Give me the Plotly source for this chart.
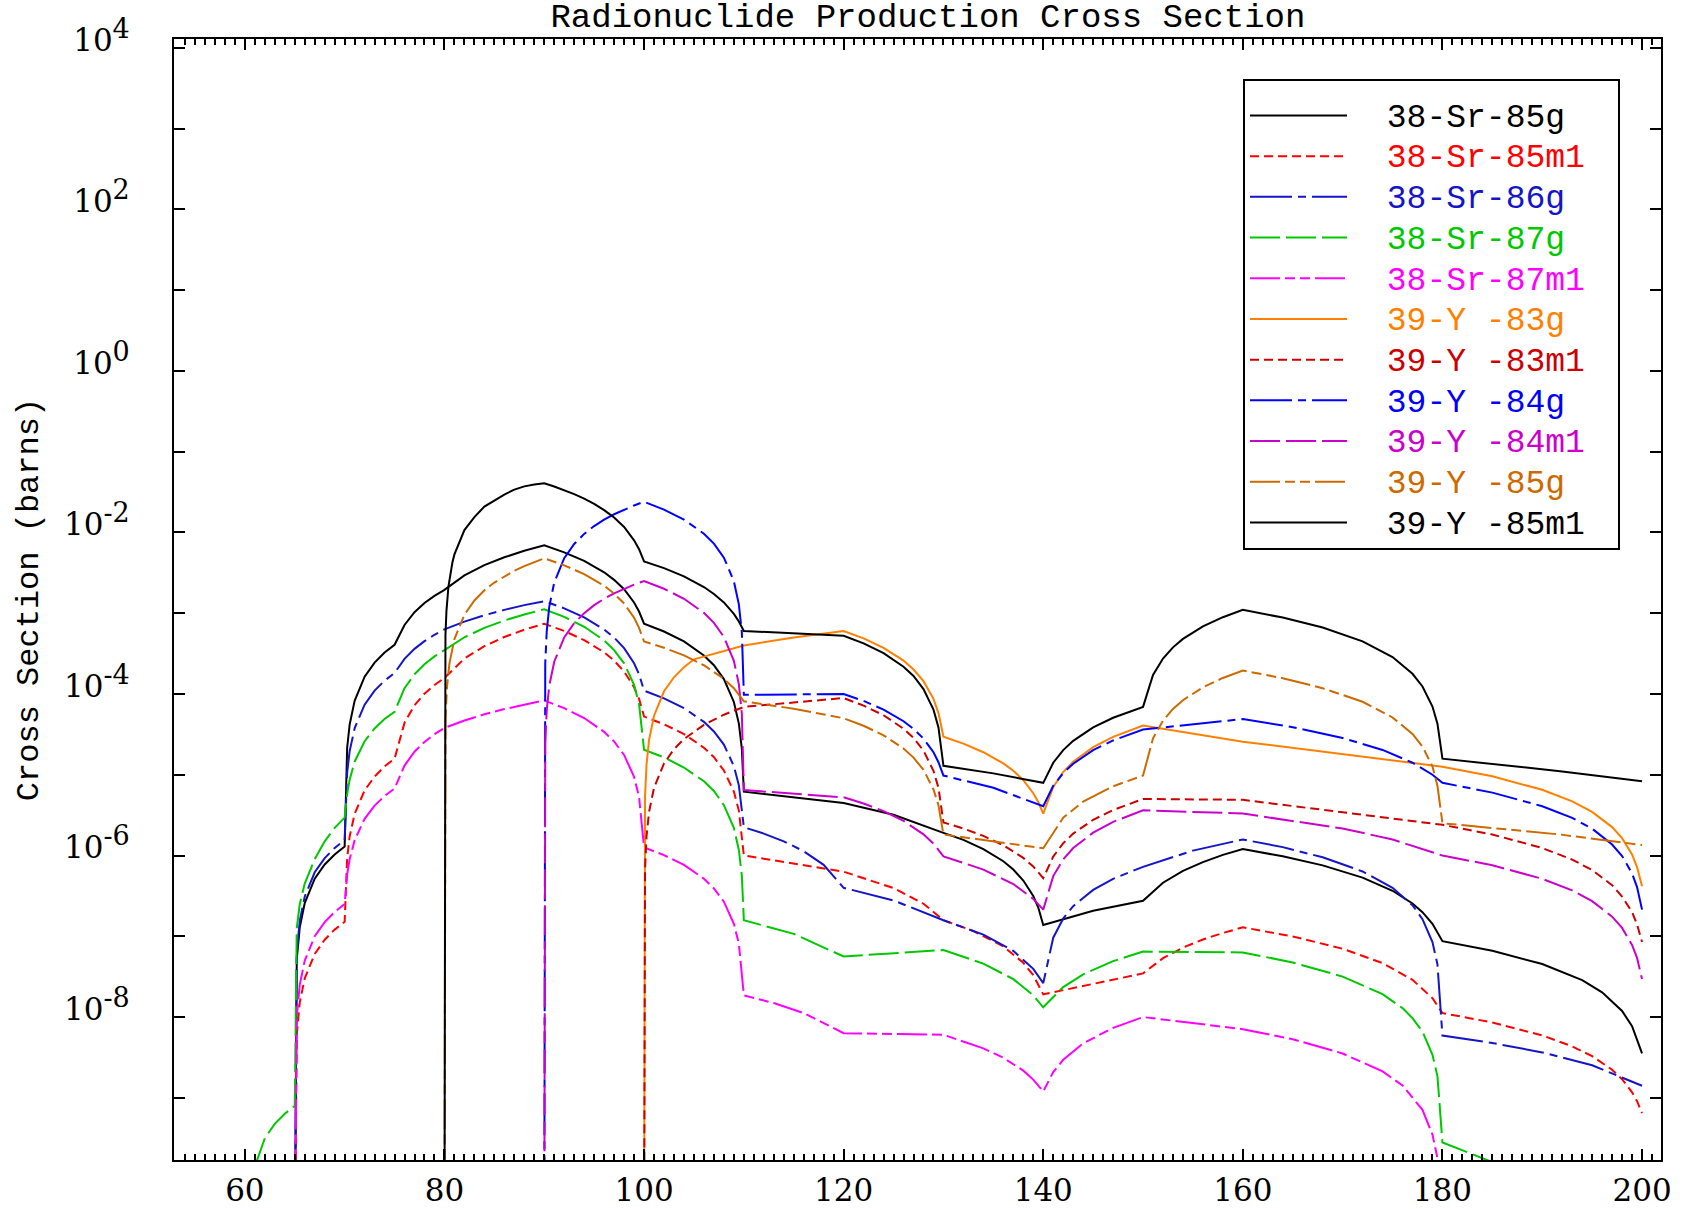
import plotly.graph_objects as go

# ---------------- data ----------------
# (energy MeV, cross section barns) pairs for each product
SR85G = [(65, 1e-11), (65.2, 5.2e-8), (65.5, 1.29e-7), (66, 2.58e-7), (67, 5.16e-7), (68, 7.74e-7), (69, 1.03e-6),
         (70, 1.29e-6), (70.25, 2.16e-5), (70.5, 4.18e-5), (71, 8.24e-5), (72, 1.64e-4), (73, 2.45e-4), (74, 3.26e-4),
         (75, 4.07e-4), (76, 7.16e-4), (77, 1.03e-3), (78, 1.34e-3), (79, 1.64e-3), (80, 1.95e-3), (82, 2.94e-3),
         (84, 3.94e-3), (86, 4.93e-3), (88, 5.93e-3), (90, 6.92e-3), (92, 5.68e-3), (94, 4.45e-3), (96, 3.21e-3),
         (97, 2.59e-3), (98, 1.98e-3), (99, 1.36e-3), (99.5, 1.05e-3), (100, 7.41e-4), (102, 5.94e-4), (104, 4.47e-4),
         (106, 3.0e-4), (107, 2.27e-4), (108, 1.53e-4), (109, 7.97e-5), (109.5, 4.3e-5), (109.8, 2.1e-5), (110, 6.17e-6),
         (120, 4.47e-6), (125, 3.19e-6), (130, 1.91e-6), (132, 1.56e-6), (134, 1.2e-6), (136, 8.5e-7), (137, 6.7e-7),
         (138, 4.9e-7), (139, 3.15e-7), (139.5, 2.27e-7), (140, 1.38e-7), (145, 2.07e-7), (150, 2.75e-7), (152, 4.6e-7),
         (154, 6.45e-7), (156, 8.3e-7), (158, 1.02e-6), (160, 1.2e-6), (164, 9.78e-7), (168, 7.55e-7), (172, 5.33e-7),
         (175, 3.66e-7), (177, 2.55e-7), (178, 1.99e-7), (179, 1.43e-7), (180, 8.71e-8), (185, 6.62e-8), (190, 4.53e-8),
         (194, 2.86e-8), (196, 2.02e-8), (198, 1.19e-8), (199, 7.7e-9), (200, 3.55e-9)]

SR85M1 = [(65, 1e-11), (65.2, 6.0e-9), (65.5, 1.51e-8), (66, 3.02e-8), (67, 6.04e-8), (68, 9.06e-8), (69, 1.21e-7),
          (70, 1.51e-7), (70.25, 9.3e-7), (70.5, 1.72e-6), (71, 3.28e-6), (72, 6.41e-6), (73, 9.5e-6), (74, 1.27e-5),
          (75, 1.58e-5), (76, 4.42e-5), (77, 7.26e-5), (78, 1.01e-4), (79, 1.29e-4), (80, 1.58e-4), (82, 2.75e-4),
          (84, 3.91e-4), (86, 5.08e-4), (88, 6.25e-4), (90, 7.41e-4), (92, 6.03e-4), (94, 4.65e-4), (96, 3.28e-4),
          (97, 2.59e-4), (98, 1.9e-4), (99, 1.21e-4), (99.5, 8.7e-5), (100, 5.25e-5), (102, 4.22e-5), (104, 3.19e-5),
          (106, 2.16e-5), (107, 1.65e-5), (108, 1.13e-5), (109, 6.2e-6), (109.5, 3.6e-6), (110, 1.0e-6), (120, 6.31e-7),
          (125, 3.95e-7), (128, 2.53e-7), (130, 1.58e-7), (133, 1.16e-7), (136, 7.5e-8), (138, 4.7e-8), (139, 3.3e-8),
          (140, 1.91e-8), (150, 3.47e-8), (152, 5.36e-8), (154, 7.24e-8), (156, 9.13e-8), (158, 1.1e-7), (160, 1.29e-7),
          (165, 9.96e-8), (170, 7.01e-8), (174, 4.66e-8), (177, 2.89e-8), (179, 1.71e-8), (180, 1.12e-8), (185, 8.56e-9),
          (190, 5.92e-9), (193, 4.34e-9), (195, 3.28e-9), (197, 2.23e-9), (198, 1.7e-9), (199, 1.17e-9), (199.5, 9.1e-10),
          (200, 6.46e-10)]

SR86G = [(65, 1e-11), (65.2, 6.2e-8), (65.5, 1.55e-7), (66, 3.1e-7), (67, 6.2e-7), (68, 9.3e-7), (69, 1.24e-6),
         (70, 1.55e-6), (70.25, 1.06e-5), (70.5, 1.96e-5), (71, 3.76e-5), (72, 7.38e-5), (73, 1.1e-4), (74, 1.46e-4),
         (75, 1.82e-4), (76, 2.72e-4), (77, 3.62e-4), (78, 4.51e-4), (79, 5.41e-4), (80, 6.31e-4), (82, 7.87e-4),
         (84, 9.43e-4), (86, 1.1e-3), (88, 1.26e-3), (90, 1.41e-3), (92, 1.15e-3), (94, 8.9e-4), (96, 6.3e-4),
         (97, 5.0e-4), (98, 3.7e-4), (99, 2.4e-4), (99.5, 1.75e-4), (100, 1.1e-4), (102, 8.84e-5), (104, 6.68e-5),
         (106, 4.52e-5), (107, 3.44e-5), (108, 2.36e-5), (109, 1.28e-5), (109.5, 7.4e-6), (110, 2.24e-6), (112, 1.87e-6),
         (114, 1.5e-6), (116, 1.13e-6), (118, 7.66e-7), (120, 3.98e-7), (125, 2.78e-7), (130, 1.58e-7), (134, 1.05e-7),
         (137, 6.6e-8), (139, 3.95e-8), (140, 2.63e-8), (141, 9.61e-8), (142, 1.66e-7), (143, 2.36e-7), (145, 3.75e-7),
         (147, 5.15e-7), (150, 7.24e-7), (155, 1.15e-6), (160, 1.58e-6), (164, 1.27e-6), (168, 9.5e-7), (172, 6.35e-7),
         (175, 3.99e-7), (177, 2.42e-7), (178, 1.63e-7), (179, 8.5e-8), (179.5, 4.5e-8), (180, 5.89e-9), (185, 4.77e-9),
         (190, 3.65e-9), (195, 2.53e-9), (200, 1.41e-9)]

SR87G = [(61, 1.41e-10), (62, 3.16e-10), (63, 4.76e-10), (64, 6.35e-10), (65, 7.94e-10), (65.2, 1.26e-7), (65.5, 2.5e-7),
         (66, 4.5e-7), (67, 9.0e-7), (68, 1.5e-6), (69, 2.2e-6), (70, 2.95e-6), (70.25, 5.8e-6), (70.5, 8.7e-6),
         (71, 1.45e-5), (72, 2.6e-5), (73, 3.75e-5), (74, 4.9e-5), (75, 6.03e-5), (76, 1.18e-4), (77, 1.76e-4),
         (78, 2.34e-4), (79, 2.92e-4), (80, 3.5e-4), (82, 5.04e-4), (84, 6.58e-4), (86, 8.12e-4), (88, 9.66e-4),
         (90, 1.12e-3), (92, 9.0e-4), (94, 6.8e-4), (96, 4.6e-4), (97, 3.5e-4), (98, 2.4e-4), (99, 1.3e-4), (99.5, 7.5e-5),
         (100, 2.04e-5), (102, 1.64e-5), (104, 1.23e-5), (106, 8.3e-6), (107, 6.3e-6), (108, 4.2e-6), (109, 2.2e-6),
         (109.5, 1.17e-6), (109.8, 5.6e-7), (110, 1.58e-7), (115, 1.07e-7), (120, 5.62e-8), (130, 6.76e-8), (134, 4.58e-8),
         (137, 2.95e-8), (139, 1.86e-8), (140, 1.32e-8), (142, 2.35e-8), (144, 3.38e-8), (147, 4.92e-8), (150, 6.46e-8),
         (160, 6.31e-8), (165, 4.74e-8), (170, 3.17e-8), (174, 1.92e-8), (176, 1.29e-8), (177, 9.7e-9), (178, 6.6e-9),
         (179, 3.4e-9), (179.5, 1.86e-9), (180, 2.8e-10), (185, 1.6e-10), (190, 1.0e-10)]

SR87M1 = [(65, 1e-11), (65.2, 1.0e-8), (65.5, 2.5e-8), (66, 5.0e-8), (67, 1.0e-7), (68, 1.5e-7), (69, 2.0e-7),
          (70, 2.51e-7), (70.25, 5.8e-7), (70.5, 9.0e-7), (71, 1.55e-6), (72, 2.85e-6), (73, 4.15e-6), (74, 5.46e-6),
          (75, 6.76e-6), (76, 1.3e-5), (77, 1.93e-5), (78, 2.55e-5), (79, 3.18e-5), (80, 3.8e-5), (82, 4.7e-5),
          (84, 5.61e-5), (86, 6.51e-5), (88, 7.42e-5), (90, 8.32e-5), (92, 6.68e-5), (94, 5.04e-5), (96, 3.4e-5),
          (97, 2.58e-5), (98, 1.76e-5), (99, 9.4e-6), (99.5, 5.3e-6), (100, 1.26e-6), (102, 1.01e-6), (104, 7.64e-7),
          (106, 5.16e-7), (107, 3.92e-7), (108, 2.68e-7), (109, 1.43e-7), (109.5, 8.1e-8), (110, 1.86e-8), (113, 1.49e-8),
          (116, 1.12e-8), (120, 6.31e-9), (130, 6.03e-9), (134, 4.1e-9), (136, 3.13e-9), (138, 2.17e-9), (139, 1.68e-9),
          (140, 1.2e-9), (141, 2.08e-9), (142, 2.96e-9), (144, 4.72e-9), (147, 7.36e-9), (150, 1.0e-8), (160, 7.08e-9),
          (165, 5.31e-9), (170, 3.54e-9), (174, 2.12e-9), (176, 1.42e-9), (178, 7.1e-10), (179, 3.5e-10), (179.5, 1.8e-10),
          (180, 1e-11)]

Y83G = [(100, 1e-11), (100.1, 5.4e-6), (100.25, 1.35e-5), (100.5, 2.69e-5), (101, 5.38e-5), (102, 1.08e-4), (103, 1.61e-4),
        (104, 2.15e-4), (105, 2.69e-4), (110, 3.98e-4), (115, 5.01e-4), (120, 6.03e-4), (122, 4.88e-4), (124, 3.73e-4),
        (126, 2.59e-4), (127, 2.01e-4), (128, 1.44e-4), (129, 8.7e-5), (129.5, 5.8e-5), (130, 2.95e-5), (132, 2.43e-5),
        (134, 1.9e-5), (136, 1.38e-5), (137, 1.12e-5), (138, 8.55e-6), (139, 5.9e-6), (139.5, 4.6e-6), (140, 3.31e-6),
        (141, 7.05e-6), (142, 1.08e-5), (143, 1.45e-5), (145, 2.2e-5), (147, 2.95e-5), (150, 4.07e-5), (160, 2.57e-5),
        (180, 1.26e-5), (185, 9.56e-6), (190, 6.51e-6), (193, 4.69e-6), (195, 3.47e-6), (197, 2.25e-6), (198, 1.64e-6),
        (199, 1.03e-6), (199.5, 7.2e-7), (200, 4.17e-7)]

Y83M1 = [(100, 1e-11), (100.1, 6.9e-7), (100.25, 1.73e-6), (100.5, 3.46e-6), (101, 6.92e-6), (102, 1.38e-5),
         (103, 2.08e-5), (104, 2.77e-5), (106, 4.15e-5), (108, 5.54e-5), (110, 6.92e-5), (120, 8.91e-5), (122, 7.18e-5),
         (124, 5.45e-5), (126, 3.72e-5), (127, 2.86e-5), (128, 1.99e-5), (129, 1.12e-5), (129.5, 6.9e-6), (130, 2.57e-6),
         (132, 2.16e-6), (134, 1.75e-6), (136, 1.34e-6), (138, 9.35e-7), (139, 7.3e-7), (140, 5.25e-7), (141, 9.7e-7),
         (142, 1.42e-6), (143, 1.87e-6), (145, 2.77e-6), (147, 3.66e-6), (150, 5.01e-6), (160, 4.9e-6), (180, 2.4e-6),
         (185, 1.82e-6), (190, 1.24e-6), (193, 8.9e-7), (195, 6.6e-7), (197, 4.3e-7), (198, 3.1e-7), (199, 2.0e-7),
         (199.5, 1.4e-7), (200, 8.51e-8)]

Y84G = [(90, 1e-11), (90.1, 2.4e-4), (90.25, 6.0e-4), (90.5, 1.2e-3), (91, 2.4e-3), (92, 4.8e-3), (93, 7.2e-3),
        (94, 9.6e-3), (95, 1.2e-2), (96, 1.44e-2), (97, 1.68e-2), (98, 1.92e-2), (99, 2.16e-2), (100, 2.4e-2),
        (102, 1.92e-2), (104, 1.44e-2), (106, 9.66e-3), (107, 7.27e-3), (108, 4.88e-3), (109, 2.49e-3), (109.5, 1.29e-3),
        (109.8, 5.8e-4), (110, 9.77e-5), (120, 1.0e-4), (122, 8.2e-5), (124, 6.4e-5), (126, 4.6e-5), (127, 3.7e-5),
        (128, 2.8e-5), (129, 1.9e-5), (129.5, 1.43e-5), (130, 9.77e-6), (135, 6.9e-6), (140, 4.07e-6), (141, 7.3e-6),
        (142, 1.05e-5), (143, 1.37e-5), (145, 2.02e-5), (147, 2.66e-5), (150, 3.63e-5), (160, 4.9e-5), (165, 3.88e-5),
        (170, 2.85e-5), (174, 2.03e-5), (177, 1.41e-5), (179, 1.0e-5), (180, 7.94e-6), (185, 6.01e-6), (190, 4.08e-6),
        (193, 2.92e-6), (195, 2.15e-6), (197, 1.37e-6), (198, 9.86e-7), (199, 6.0e-7), (199.5, 4.07e-7), (200, 2.14e-7)]

Y84M1 = [(90, 1e-11), (90.1, 2.5e-5), (90.25, 6.3e-5), (90.5, 1.26e-4), (91, 2.51e-4), (92, 5.02e-4), (93, 7.53e-4),
         (94, 1.0e-3), (95, 1.26e-3), (96, 1.51e-3), (97, 1.76e-3), (98, 2.01e-3), (99, 2.26e-3), (100, 2.51e-3),
         (102, 2.01e-3), (104, 1.51e-3), (106, 1.01e-3), (107, 7.6e-4), (108, 5.1e-4), (109, 2.58e-4), (109.5, 1.32e-4),
         (109.8, 5.7e-5), (110, 6.46e-6), (120, 5.25e-6), (122, 4.4e-6), (124, 3.54e-6), (126, 2.69e-6), (128, 1.83e-6),
         (129, 1.4e-6), (130, 9.77e-7), (134, 6.7e-7), (137, 4.44e-7), (139, 2.9e-7), (140, 2.14e-7), (141, 5.56e-7),
         (142, 8.98e-7), (143, 1.24e-6), (145, 1.92e-6), (147, 2.61e-6), (150, 3.63e-6), (160, 3.31e-6), (170, 2.16e-6),
         (175, 1.58e-6), (180, 1.0e-6), (185, 7.58e-7), (190, 5.15e-7), (193, 3.7e-7), (195, 2.72e-7), (197, 1.75e-7),
         (198, 1.27e-7), (199, 7.8e-8), (199.5, 5.4e-8), (200, 2.95e-8)]

Y85G = [(80, 1e-11), (80.1, 4.8e-5), (80.25, 1.2e-4), (80.5, 2.4e-4), (81, 4.79e-4), (82, 9.58e-4), (83, 1.44e-3),
        (84, 1.92e-3), (85, 2.4e-3), (86, 2.87e-3), (87, 3.35e-3), (88, 3.83e-3), (89, 4.31e-3), (90, 4.79e-3),
        (92, 3.92e-3), (94, 3.05e-3), (96, 2.19e-3), (97, 1.75e-3), (98, 1.32e-3), (99, 8.8e-4), (99.5, 6.6e-4),
        (100, 4.47e-4), (102, 3.74e-4), (104, 3.01e-4), (106, 2.27e-4), (108, 1.54e-4), (109, 1.18e-4), (110, 8.13e-5),
        (115, 6.57e-5), (120, 5.01e-5), (122, 4.04e-5), (124, 3.08e-5), (126, 2.11e-5), (127, 1.63e-5), (128, 1.15e-5),
        (129, 6.6e-6), (129.5, 4.2e-6), (130, 1.82e-6), (140, 1.23e-6), (142, 2.94e-6), (144, 4.65e-6), (147, 7.2e-6),
        (150, 9.77e-6), (151, 2.83e-5), (152, 4.68e-5), (153, 6.53e-5), (154, 8.38e-5), (156, 1.21e-4), (158, 1.58e-4),
        (160, 1.95e-4), (164, 1.57e-4), (168, 1.18e-4), (172, 8.01e-5), (175, 5.12e-5), (177, 3.2e-5), (178, 2.23e-5),
        (179, 1.27e-5), (179.5, 7.3e-6), (180, 2.51e-6), (191.8, 1.82e-6), (200, 1.35e-6)]

Y85M1 = [(80, 1e-11), (80.1, 5.4e-4), (80.2, 1.07e-3), (80.4, 2.14e-3), (80.8, 4.28e-3), (81, 5.35e-3), (82, 1.07e-2),
         (83, 1.55e-2), (84, 2.09e-2), (85, 2.51e-2), (86, 2.95e-2), (87, 3.39e-2), (88, 3.72e-2), (89, 3.92e-2),
         (90, 4.07e-2), (91, 3.71e-2), (92, 3.34e-2), (93, 2.98e-2), (94, 2.62e-2), (95, 2.26e-2), (96, 1.89e-2),
         (97, 1.53e-2), (98, 1.17e-2), (99, 8.0e-3), (99.5, 6.2e-3), (100, 4.37e-3), (102, 3.62e-3), (104, 2.86e-3),
         (106, 2.11e-3), (107, 1.73e-3), (108, 1.36e-3), (109, 9.8e-4), (109.5, 7.9e-4), (110, 6.03e-4), (120, 5.25e-4),
         (122, 4.23e-4), (124, 3.2e-4), (126, 2.18e-4), (127, 1.67e-4), (128, 1.15e-4), (129, 6.4e-5), (129.5, 3.85e-5),
         (130, 1.29e-5), (135, 1.04e-5), (140, 7.94e-6), (141, 1.41e-5), (142, 2.02e-5), (143, 2.63e-5), (145, 3.86e-5),
         (147, 5.08e-5), (150, 6.92e-5), (151, 1.72e-4), (152, 2.75e-4), (153, 3.78e-4), (154, 4.81e-4), (156, 6.87e-4),
         (158, 8.93e-4), (160, 1.1e-3), (164, 8.83e-4), (168, 6.66e-4), (172, 4.49e-4), (175, 2.87e-4), (177, 1.78e-4),
         (178, 1.24e-4), (179, 7.0e-5), (179.5, 4.3e-5), (180, 1.58e-5), (192, 1.1e-5), (200, 8.32e-6)]

NAMES = ["38-Sr-85g", "38-Sr-85m1", "38-Sr-86g", "38-Sr-87g", "38-Sr-87m1",
         "39-Y -83g", "39-Y -83m1", "39-Y -84g", "39-Y -84m1", "39-Y -85g", "39-Y -85m1"]
SERIES = [SR85G, SR85M1, SR86G, SR87G, SR87M1, Y83G, Y83M1, Y84G, Y84M1, Y85G, Y85M1]

Y_LABEL_EXP = [-8, -6, -4, -2, 0, 2, 4]
Y_MINOR_EXP = [-9, -7, -5, -3, -1, 1, 3]
X_TICKS = [60, 80, 100, 120, 140, 160, 180, 200]

# ---------------- styles ----------------
COLORS = ["#000000", "#ff0000", "#1414c8", "#00c800", "#ff00ff",
          "#ff8000", "#cc0000", "#0000ff", "#cc00cc", "#cc6a00", "#000000"]
DASH_SHORT = "9px,5px"
DASH_LONG_SHORT = "42px,6px,8px,6px"
DASH_LONG = "30px,6px"
DASH_LONG_2SHORT = "30px,5px,10px,5px,10px,5px"
DASHES = ["solid", DASH_SHORT, DASH_LONG_SHORT, DASH_LONG, DASH_LONG_2SHORT,
          "solid", DASH_SHORT, DASH_LONG_SHORT, DASH_LONG, DASH_LONG_2SHORT, "solid"]

MONO = "Liberation Mono"
SERIF = "DejaVu Serif"
NB = "\u00a0"

fig = go.Figure()
for name, pts, c, d in zip(NAMES, SERIES, COLORS, DASHES):
    label = (f'<span style="font-size:29px">{NB}{NB}</span>'
             f'<span style="color:{c};font-size:33px">{name}</span>'
             f'<span style="font-size:46px">{NB}</span>')
    fig.add_trace(go.Scatter(
        x=[p[0] for p in pts], y=[p[1] for p in pts], mode="lines",
        name=label,
        line=dict(color=c, width=2, dash=d),
    ))

fig.update_layout(
    template="none",
    width=1686, height=1209,
    margin=dict(l=174, r=25, t=39, b=49, autoexpand=False),
    paper_bgcolor="white", plot_bgcolor="white",
    font=dict(family=MONO, color="black"),
    title=dict(text="Radionuclide Production Cross Section",
               font=dict(family=MONO, size=34, color="black"),
               x=0.507, xref="paper", xanchor="center",
               y=1 - 15 / 1209, yref="container", yanchor="middle"),
    showlegend=True,
    hovermode=False,
    legend=dict(x=0.7189, y=0.9643, xanchor="left", yanchor="top",
                bgcolor="white", bordercolor="black", borderwidth=2,
                font=dict(family=MONO, size=29, color="black"),
                title=dict(text=NB, font=dict(size=7)),
                itemwidth=97, tracegroupgap=0),
    xaxis=dict(range=[52.9, 201.9], showgrid=False, zeroline=False, automargin=False,
               showline=True, linecolor="black", linewidth=2, mirror="ticks",
               tickmode="array", tickvals=X_TICKS, ticks="inside", ticklen=11,
               tickwidth=1.5, tickcolor="black",
               tickfont=dict(family=SERIF, size=31, color="black"),
               ticklabelstandoff=2,
               minor=dict(dtick=1, tick0=0, ticks="inside", ticklen=6, tickwidth=1.5, tickcolor="black",
                          showgrid=False)),
    yaxis=dict(type="log", range=[-9.77, 4.11], showgrid=False, zeroline=False, automargin=False,
               showline=True, linecolor="black", linewidth=2, mirror="ticks",
               tickmode="array", tickvals=[10.0 ** p for p in Y_LABEL_EXP],
               ticktext=[f'10<sup><span style="font-size:27px">{p}</span></sup>' for p in Y_LABEL_EXP],
               ticks="inside", ticklen=11, tickwidth=1.5, tickcolor="black",
               tickfont=dict(family=SERIF, size=31, color="black"),
               ticklabelstandoff=36, ticklabelshift=-8,
               minor=dict(tickmode="array", tickvals=[10.0 ** p for p in Y_MINOR_EXP],
                          ticks="inside", ticklen=11, tickwidth=1.5, tickcolor="black", showgrid=False),
               title=dict(text="Cross Section (barns)", font=dict(family=MONO, size=32, color="black"),
                          standoff=16)),
)

fig.write_html("out.html", config={"displayModeBar": False},
               post_script="document.body.style.margin='0';")
